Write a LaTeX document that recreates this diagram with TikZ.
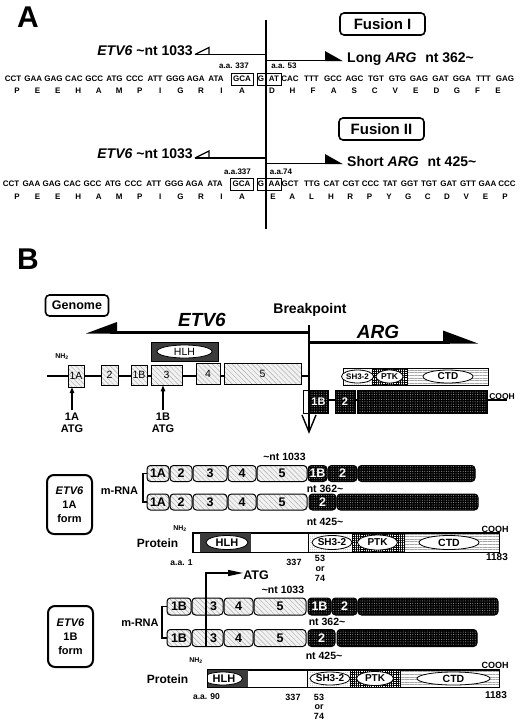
\documentclass[tikz,border=0pt]{standalone}
\usepackage{fontspec}
\setmainfont{Liberation Sans}
\usetikzlibrary{shapes.geometric,patterns.meta,arrows.meta}
\newcommand\fsz[1]{\fontsize{#1}{#1}\selectfont}
\tikzset{
  txt/.style={inner sep=0pt, font=\bfseries\fsz{#1}},
  txt/.default=10,
  etvpat/.style={preaction={fill=gray!10}, pattern={Lines[angle=-45,distance=3.5pt,line width=.45pt]}, pattern color=gray!65},
  argpat/.style={preaction={fill=black}, pattern={Dots[distance=2.4pt,radius=.5pt]}, pattern color=gray!70},
  hlhpat/.style={preaction={fill=black}, pattern={Dots[distance=2pt,radius=.55pt]}, pattern color=white},
  sh3pat/.style={preaction={fill=white}, pattern={Dots[distance=2.2pt,radius=.4pt]}, pattern color=gray!80},
  ptkpat/.style={preaction={fill=white}, pattern={Hatch[distance=2.2pt,line width=.7pt]}, pattern color=black},
  ctdpat/.style={preaction={fill=white}, pattern={Lines[angle=0,distance=2.6pt,line width=.4pt]}, pattern color=gray!70},
  gex/.style={draw, line width=.9pt, inner sep=0pt, etvpat, font=\fsz{10.5}},
  aex/.style={draw, line width=.9pt, inner sep=0pt, argpat, text=white, font=\bfseries\fsz{11}},
  mex/.style={draw, line width=1pt, rounded corners=3.5pt, inner sep=0pt, etvpat, font=\bfseries\fsz{12.5}},
  mbk/.style={draw, line width=1pt, rounded corners=3.5pt, inner sep=0pt, argpat, text=white, font=\bfseries\fsz{12.5}},
  dom/.style={draw, line width=.7pt, inner sep=0pt},
  oval/.style={ellipse, draw, line width=.8pt, fill=white, inner sep=0pt, font=\bfseries\fsz{#1}},
  oval/.default=9,
  rbox/.style={draw, rounded corners=4pt, line width=1.6pt, inner sep=0pt},
  formbox/.style={draw, rounded corners=7pt, line width=2pt, inner sep=0pt, align=center, font=\bfseries\fontsize{11}{14}\selectfont},
  seq/.style={inner sep=0pt, font=\bfseries\fsz{8}},
  cbox/.style={draw, line width=.6pt, inner sep=0pt},
  thk/.style={line width=1.5pt},
}
\begin{document}
\begin{tikzpicture}[x=1pt,y=-1pt]
\fill[white] (0,0) rectangle (520,721);
\useasboundingbox (0,0) rectangle (520,721);

%%%%%%%%%%%%%%%% PART A
\node[txt=30] (labA) at (28,17) {A};

% Fusion I
\node[rbox, txt=15, minimum width=85pt, minimum height=22pt] (fus1) at (382.5,24) {Fusion I};
\node[txt=14, anchor=east] (e61) at (193,50.5) {\textit{ETV6} \textasciitilde nt 1033};
\coordinate (e61a) at (195,54.5); \coordinate (e61b) at (266,54.5);
\draw[thk] (e61a) -- (e61b);
\draw[line width=1.3pt, line join=miter] (195,54.5) -- (209,47.5) -- (209,54.5);
\coordinate (a61a) at (266,60.5); \coordinate (a61b) at (330,60.5);
\draw[thk] (a61a) -- (a61b);
\fill (325,51) -- (343,61.2) -- (325,61.2) -- cycle;
\node[txt=14, anchor=west] (arg1) at (347,59.5) {Long \textit{ARG}\hspace{5pt} nt 362\textasciitilde};
\node[txt=8] (aa337a) at (234,66) {a.a. 337};
\node[txt=8] (aa53) at (284,66) {a.a. 53};

\foreach \c [count=\i from 0] in {CCT,GAA,GAG,CAC,GCC,ATG,CCC,ATT,GGG,AGA,ATA}
  \node[seq] (sa\i) at ({13+20.3*\i},79) {\c};
\node[cbox, seq, minimum width=22pt, minimum height=12pt] (bxa1) at (242,79) {GCA};
\node[cbox, minimum width=24pt, minimum height=12pt] (bxa2) at (269,79) {};
\node[seq] (sga) at (261,79) {G};
\node[seq] (sata) at (274,79) {AT};
\foreach \c [count=\i from 0] in {CAC,TTT,GCC,AGC,TGT,GTG,GAG,GAT,GGA,TTT,GAG}
  \node[seq] (sb\i) at ({290+21.5*\i},79) {\c};
\foreach \c [count=\i from 0] in {P,E,E,H,A,M,P,I,G,R,I,A}
  \node[seq] (pa\i) at ({17+20.45*\i},90.5) {\c};
\foreach \c [count=\i from 0] in {D,H,F,A,S,C,V,E,D,G,F,E}
  \node[seq] (pb\i) at ({272+20.55*\i},90.5) {\c};

% Fusion II
\node[rbox, txt=15, minimum width=85pt, minimum height=22pt] (fus2) at (381.5,129) {Fusion II};
\node[txt=14, anchor=east] (e62) at (193,154) {\textit{ETV6} \textasciitilde nt 1033};
\coordinate (e62a) at (195,158); \coordinate (e62b) at (266,158);
\draw[thk] (e62a) -- (e62b);
\draw[line width=1.3pt, line join=miter] (195,158) -- (209,151) -- (209,158);
\coordinate (a62a) at (266,163.5); \coordinate (a62b) at (330,163.5);
\draw[thk] (a62a) -- (a62b);
\fill (325,154) -- (343,164.2) -- (325,164.2) -- cycle;
\node[txt=14, anchor=west] (arg2) at (347,161) {Short \textit{ARG}\hspace{5pt} nt 425\textasciitilde};
\node[txt=8] (aa337b) at (237.5,172) {a.a.337};
\node[txt=8] (aa74) at (281,172) {a.a.74};

\foreach \c [count=\i from 0] in {CCT,GAA,GAG,CAC,GCC,ATG,CCC,ATT,GGG,AGA,ATA}
  \node[seq] (sc\i) at ({11+20.4*\i},184) {\c};
\node[cbox, seq, minimum width=23pt, minimum height=12pt] (bxb1) at (241.5,184) {GCA};
\node[cbox, minimum width=24pt, minimum height=12pt] (bxb2) at (269,184) {};
\node[seq] (sgb) at (261,184) {G};
\node[seq] (saab) at (274.5,184) {AA};
\node[seq] (sgct) at (290,184) {GCT};
\foreach \c [count=\i from 0] in {TTG,CAT,CGT,CCC,TAT,GGT,TGT,GAT,GTT,GAA,CCC}
  \node[seq] (sd\i) at ({312+19.5*\i},184) {\c};
\foreach \c [count=\i from 0] in {P,E,E,H,A,M,P,I,G,R,I,A}
  \node[seq] (pc\i) at ({17+20.45*\i},197) {\c};
\foreach \c [count=\i from 0] in {E,A,L,H,R,P,Y,G,C,D,V,E,P}
  \node[seq] (pd\i) at ({273+19.33*\i},197) {\c};

\coordinate (vtop) at (266,20); \coordinate (vbot) at (266,229);
\draw[line width=2pt] (vtop) -- (vbot);

%%%%%%%%%%%%%%%% PART B
\node[txt=30] (labB) at (28,259) {B};
\node[rbox, txt=12.5, minimum width=63pt, minimum height=21pt] (genome) at (77,305.5) {Genome};
\node[txt=19, font=\bfseries\itshape\fsz{19}] (etvB) at (202,320) {ETV6};
\node[txt=14] (bkpt) at (310,310) {Breakpoint};
\node[txt=19, font=\bfseries\itshape\fsz{19}] (argB) at (378,332) {ARG};

% big gene arrows
\coordinate (etA) at (309,332); \coordinate (etB) at (110,332);
\draw[line width=3pt] (etA) -- (etB);
\fill (86,333.5) -- (117,322) -- (117,333.5) -- cycle;
\coordinate (arA) at (309,342); \coordinate (arB) at (450,342);
\draw[line width=3pt] (arA) -- (arB);
\fill (478,343.5) -- (443,330.5) -- (443,343.5) -- cycle;

% genome line
\coordinate (gl0) at (47,376); \coordinate (gl1) at (309,376);
\draw[thk] (gl0) -- (gl1);
\node[gex, minimum width=16pt, minimum height=22pt] (g1A) at (76,376) {1A};
\node[gex, minimum width=17pt, minimum height=20pt] (g2) at (109.5,375) {2};
\node[gex, minimum width=16pt, minimum height=20pt] (g1B) at (139,375) {1B};
\node[gex, minimum width=31pt, minimum height=20pt] (g3) at (166.5,375) {3};
\node[gex, minimum width=24pt, minimum height=21pt] (g4) at (208,374) {4};
\node[gex, minimum width=77pt, minimum height=21pt] (g5) at (262.5,374) {5};
\node[dom, hlhpat, minimum width=67pt, minimum height=19pt] (ghlh) at (184.5,351.5) {};
\node[oval, font=\fsz{10.5}, minimum width=55pt, minimum height=13pt] (ghlht) at (184.5,351.5) {HLH};
\node[txt=7] (nh2g) at (62,357) {NH$_{\mathbf 2}$};
\coordinate (atg1a) at (72,410); \coordinate (atg1b) at (163,410);
\draw[line width=1.3pt, -{Triangle[length=6pt,width=4.5pt]}] (atg1a) -- (atg1a |- g1A.south);
\draw[line width=1.3pt, -{Triangle[length=6pt,width=4.5pt]}] (atg1b) -- (atg1b |- g3.south);
\node[txt=11] (l1a) at (72,416.5) {1A};
\node[txt=11] (l1aatg) at (72,428.5) {ATG};
\node[txt=11] (l1b) at (163,416.5) {1B};
\node[txt=11] (l1batg) at (163,428.5) {ATG};

% ARG genomic
\node[dom, sh3pat, minimum width=29pt, minimum height=17pt] (gd1) at (357.5,376.5) {};
\node[dom, ptkpat, minimum width=35pt, minimum height=17pt] (gd2) at (389.5,376.5) {};
\node[dom, ctdpat, minimum width=81pt, minimum height=17pt] (gd3) at (447.5,376.5) {};
\node[oval=8, minimum width=27pt, minimum height=13pt] (gd1t) at (357.5,376.5) {SH3-2};
\node[oval=8.5, minimum width=27pt, minimum height=13pt] (gd2t) at (389.5,376.5) {PTK};
\node[oval=10, minimum width=50pt, minimum height=13pt] (gd3t) at (448,376.5) {CTD};

\coordinate (al0) at (309,400); \coordinate (al1) at (507,400);
\draw[thk] (al0) -- (al1);
\node[dom, fill=white, line width=.8pt, minimum width=6pt, minimum height=23pt] (awb) at (306,401.5) {};
\node[aex, minimum width=19pt, minimum height=23pt] (a1B) at (318.5,401.5) {1B};
\node[aex, minimum width=20pt, minimum height=23pt] (a2) at (345,401.5) {2};
\node[aex, minimum width=130pt, minimum height=23pt] (abig) at (422,401.5) {};
\node[txt=8.5] (coohg) at (502,397) {COOH};

% breakpoint
\coordinate (bp0) at (309,325); \coordinate (bp1) at (309,432);
\draw[thk] (bp0) -- (bp1);
\draw[line width=1.4pt, line join=miter] (302,415) -- (309,432) -- (316,415);

%%%%%%%%%%%%%%%% 1A form
\node[formbox, minimum width=45pt, minimum height=59pt] (f1a) at (69.5,504.5) {\textit{ETV6}\\1A\\form};
\node[txt=11] (mr1) at (119.5,491) {m-RNA};
\coordinate (bk1t) at (148,473.5); \coordinate (bk1b) at (148,502);
\draw[line width=1.1pt] (bk1t) -- ++(-5,0) |- (bk1b);

\node[mex, minimum width=22pt, minimum height=16pt] (r1a1) at (158,473.5) {1A};
\node[mex, minimum width=22pt, minimum height=16pt] (r1a2) at (181,473.5) {2};
\node[mex, minimum width=34pt, minimum height=16pt] (r1a3) at (210,473.5) {3};
\node[mex, minimum width=28pt, minimum height=16pt] (r1a4) at (242,473.5) {4};
\node[mex, minimum width=50pt, minimum height=16pt] (r1a5) at (282,473.5) {5};
\node[mbk, minimum width=19pt, minimum height=16pt] (r1a6) at (317.5,473.5) {1B};
\node[mbk, minimum width=29pt, minimum height=16pt] (r1a7) at (342.5,473.5) {2};
\node[mbk, minimum width=117pt, minimum height=16pt] (r1a8) at (416.5,473.5) {};

\node[mex, minimum width=22pt, minimum height=16pt] (r2a1) at (158,502) {1A};
\node[mex, minimum width=22pt, minimum height=16pt] (r2a2) at (181,502) {2};
\node[mex, minimum width=34pt, minimum height=16pt] (r2a3) at (210,502) {3};
\node[mex, minimum width=28pt, minimum height=16pt] (r2a4) at (242,502) {4};
\node[mex, minimum width=50pt, minimum height=16pt] (r2a5) at (282,502) {5};
\node[mbk, minimum width=27pt, minimum height=16pt] (r2a6) at (322.5,502) {2};
\node[mbk, minimum width=141pt, minimum height=16pt] (r2a7) at (407.5,502) {};

\node[txt=10.5] (nta1) at (284.5,457) {\textasciitilde nt 1033};
\node[txt=10.5] (nta2) at (325,489) {nt 362\textasciitilde};
\node[txt=10.5] (nta3) at (325,522) {nt 425\textasciitilde};

% protein 1A
\node[dom, fill=white, minimum width=306pt, minimum height=19pt] (pr1) at (346,542.5) {};
\node[dom, hlhpat, draw=none, minimum width=51pt, minimum height=19pt] (pr1h) at (225.5,542.5) {};
\node[dom, sh3pat, minimum width=44pt, minimum height=19pt] (pr1s) at (330,542.5) {};
\node[dom, ptkpat, minimum width=52pt, minimum height=19pt] (pr1p) at (378,542.5) {};
\node[dom, ctdpat, minimum width=95pt, minimum height=19pt] (pr1c) at (451.5,542.5) {};
\node[oval=11, minimum width=42pt, minimum height=14pt] (pr1ht) at (227,542.5) {HLH};
\node[oval=10, minimum width=36pt, minimum height=14pt] (pr1st) at (332,542.5) {SH3-2};
\node[oval=10, minimum width=40pt, minimum height=15pt] (pr1pt) at (377.5,542.5) {PTK};
\node[oval=10.5, minimum width=60pt, minimum height=14pt] (pr1ct) at (449,542.5) {CTD};
\draw[line width=.7pt] (pr1.north west) rectangle (pr1.south east);
\node[txt=12] (prot1) at (157.5,543) {Protein};
\node[txt=7] (nh2a) at (180,529) {NH$_{\mathbf 2}$};
\node[txt=8.5] (aa1) at (181.5,563) {a.a. 1};
\node[txt=9] (n337a) at (294,562) {337};
\node[txt=9, align=center, font=\bfseries\fontsize{9}{9.8}\selectfont, anchor=north] (n5374a) at (320,555) {53\\or\\74};
\node[txt=9] (cooha) at (495,529) {COOH};
\node[txt=10] (n1183a) at (497,557) {1183};

%%%%%%%%%%%%%%%% 1B form
\node[formbox, minimum width=45pt, minimum height=61pt] (f1b) at (70.5,636.5) {\textit{ETV6}\\1B\\form};
\node[txt=11] (mr2) at (140,623) {m-RNA};
\coordinate (bk2t) at (167,606.5); \coordinate (bk2b) at (167,638);
\draw[line width=1.1pt] (bk2t) -- ++(-5,0) |- (bk2b);

\node[mex, minimum width=24pt, minimum height=17pt] (r1b1) at (179,606.5) {1B};
\node[mex, minimum width=31pt, minimum height=17pt] (r1b2) at (207.5,606.5) {};
\node[mex, minimum width=29pt, minimum height=17pt] (r1b3) at (238.5,606.5) {4};
\node[mex, minimum width=52pt, minimum height=17pt] (r1b4) at (280,606.5) {5};
\node[mbk, minimum width=23pt, minimum height=17pt] (r1b5) at (319.5,606.5) {1B};
\node[mbk, minimum width=25pt, minimum height=17pt] (r1b6) at (344.5,606.5) {2};
\node[mbk, minimum width=140pt, minimum height=17pt] (r1b7) at (428,606.5) {};
\node[txt=12.5] (r1b2t) at (213.5,606.5) {3};

\node[mex, minimum width=24pt, minimum height=17pt] (r2b1) at (179,638) {1B};
\node[mex, minimum width=31pt, minimum height=17pt] (r2b2) at (207.5,638) {};
\node[mex, minimum width=29pt, minimum height=17pt] (r2b3) at (238.5,638) {4};
\node[mex, minimum width=52pt, minimum height=17pt] (r2b4) at (280,638) {5};
\node[mbk, minimum width=27pt, minimum height=17pt] (r2b5) at (321.5,638) {2};
\node[mbk, minimum width=140pt, minimum height=17pt] (r2b6) at (407,638) {};
\node[txt=12.5] (r2b2t) at (213.5,638) {3};

\node[txt=10.5] (ntb1) at (283,590) {\textasciitilde nt 1033};
\node[txt=10.5] (ntb2) at (327,622) {nt 362\textasciitilde};
\node[txt=10.5] (ntb3) at (324,656) {nt 425\textasciitilde};

% ATG arrow for 1B
\node[txt=12.5] (atgt) at (256,575) {ATG};
\coordinate (atgb) at (206,647); \coordinate (atgc) at (206,573);
\draw[line width=1.2pt, -{Triangle[length=15pt,width=6pt]}] (atgb) -- (atgc) -- (atgc -| atgt.west);

% protein 1B
\node[dom, fill=white, minimum width=291pt, minimum height=17pt] (pr2) at (353.5,678.5) {};
\node[dom, hlhpat, draw=none, minimum width=40pt, minimum height=17pt] (pr2h) at (228,678.5) {};
\begin{scope}
\clip (208,670) rectangle (248,687);
\draw[line width=.8pt, fill=white] (223,678.5) ellipse [x radius=19.5pt, y radius=6.5pt];
\end{scope}
\node[txt=11] (pr2ht) at (224,679) {HLH};
\node[dom, sh3pat, minimum width=43pt, minimum height=17pt] (pr2s) at (328.5,678.5) {};
\node[dom, ptkpat, minimum width=50pt, minimum height=17pt] (pr2p) at (375,678.5) {};
\node[dom, ctdpat, minimum width=99pt, minimum height=17pt] (pr2c) at (449.5,678.5) {};
\node[oval=10, minimum width=36pt, minimum height=13pt] (pr2st) at (330,678.5) {SH3-2};
\node[oval=10, minimum width=37pt, minimum height=14pt] (pr2pt) at (375,678.5) {PTK};
\node[oval=10.5, minimum width=73pt, minimum height=13pt] (pr2ct) at (453.5,678.5) {CTD};
\draw[line width=.7pt] (pr2.north west) rectangle (pr2.south east);
\node[txt=12] (prot2) at (167.5,679) {Protein};
\node[txt=7] (nh2b) at (196,661) {NH$_{\mathbf 2}$};
\node[txt=8.5] (aa90) at (206.5,697) {a.a. 90};
\node[txt=9] (n337b) at (293,697) {337};
\node[txt=9, align=center, font=\bfseries\fontsize{9}{9.5}\selectfont, anchor=north] (n5374b) at (319,694) {53\\or\\74};
\node[txt=9] (coohb) at (495,665) {COOH};
\node[txt=10] (n1183b) at (496,695) {1183};
\end{tikzpicture}
\end{document}
